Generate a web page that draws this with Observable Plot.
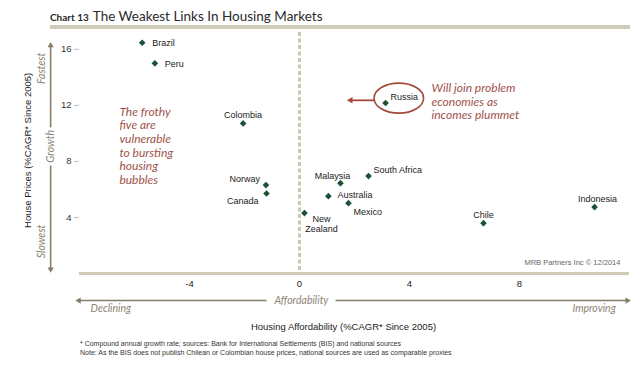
<!DOCTYPE html>
<html>
<head>
<meta charset="utf-8">
<script src="https://cdn.jsdelivr.net/npm/d3@7"></script>
<script src="https://cdn.jsdelivr.net/npm/@observablehq/plot@0.6"></script>
<style>
  html, body { margin: 0; padding: 0; background: #fff; }
  body { width: 640px; height: 366px; overflow: hidden; position: relative; font-family: "Liberation Sans", Arial, sans-serif; }
  #title { position: absolute; left: 50px; top: 5px; font-family: Lato, sans-serif; color: #2a2a2a; white-space: nowrap; }
  #title .num { font-size: 10px; font-weight: bold; margin-right: 4px; }
  #title .main { font-size: 13.5px; }
  #bar { position: absolute; left: 50px; top: 25px; width: 580px; height: 4px; background: #cfcdb9; }
  #chart { position: absolute; left: 0; top: 31px; }
  #notes { position: absolute; left: 80px; top: 340px; font-size: 7px; line-height: 8.5px; color: #333; white-space: nowrap; }
</style>
</head>
<body>
<div id="title"><span class="num">Chart 13</span><span class="main">The Weakest Links In Housing Markets</span></div>
<div id="bar"></div>
<div id="chart"></div>
<div id="notes">
  <div>* Compound annual growth rate; sources: Bank for International Settlements (BIS) and national sources</div>
  <div>Note: As the BIS does not publish Chilean or Colombian house prices, national sources are used as comparable proxies</div>
</div>
<script>
// ---- data ----
const countries     = ["Brazil", "Peru", "Colombia", "Norway", "Canada", "New Zealand", "Malaysia", "Australia", "Mexico", "South Africa", "Russia", "Chile", "Indonesia"];
const affordability = [-5.72, -5.26, -2.05, -1.22, -1.20, 0.18, 1.49, 1.05, 1.78, 2.51, 3.13, 6.69, 10.73];
const housePrices   = [16.47, 15.00, 10.71, 6.31, 5.71, 4.31, 6.45, 5.52, 5.02, 6.95, 12.17, 3.59, 4.74];
const xTicks = [-4, 0, 4, 8];
const yTicks = [4, 8, 12, 16];

const points = countries.map((c, i) => ({country: c, x: affordability[i], y: housePrices[i]}));

// label layout (offsets in px)
const labelLayout = {
  "Brazil":       {dx: 10, dy: 0,  anchor: "start"},
  "Peru":         {dx: 10, dy: 0,  anchor: "start"},
  "Colombia":     {dx: 0,  dy: -9, anchor: "middle"},
  "Norway":       {dx: -6, dy: -7, anchor: "end"},
  "Canada":       {dx: -8, dy: 7,  anchor: "end"},
  "New Zealand":  {dx: 17, dy: 10.5, anchor: "middle", text: "New\nZealand"},
  "Malaysia":     {dx: -8, dy: -8, anchor: "middle"},
  "Australia":    {dx: 9,  dy: -2, anchor: "start"},
  "Mexico":       {dx: 5,  dy: 8,  anchor: "start"},
  "South Africa": {dx: 5,  dy: -7, anchor: "start"},
  "Russia":       {dx: 5,  dy: -6, anchor: "start"},
  "Chile":        {dx: 0,  dy: -9, anchor: "middle"},
  "Indonesia":    {dx: 3,  dy: -9, anchor: "middle"}
};

const taupe = "#857d68";
const taupeText = "#8c8473";
const red = "#a34a3a";
const redText = "#a0524a";

const labelMarks = points.map(p => {
  const L = labelLayout[p.country];
  return Plot.text([p], {
    x: "x", y: "y", text: d => L.text || d.country,
    dx: L.dx, dy: L.dy, textAnchor: L.anchor, lineAnchor: "middle", lineHeight: 1.2,
    fontSize: 9, fill: "#222", fontFamily: "Liberation Sans, Arial, sans-serif"
  });
});

// annotation geometry in data units
const growthX = -9.05;
const growthLines = [{x1: growthX, y1: 0.3, x2: growthX, y2: 7.71}, {x1: growthX, y1: 10.43, x2: growthX, y2: 16.27}];
const growthHeads = [{x: growthX, y: 16.27, rot: 0}, {x: growthX, y: 0.3, rot: 180}];
const affY = -1.93;
const affLines = [{x1: -8.0, y1: affY, x2: -1.2, y2: affY}, {x1: 1.31, y1: affY, x2: 11.9, y2: affY}];
const affHeads = [{x: -8.02, y: affY, rot: -90}, {x: 11.92, y: affY, rot: 90}];
const russiaRing = {x: 3.63, y: 12.48, rx: 0.9, ry: 1.07};
const russiaArrow = [{x1: 2.73, y1: 12.36, x2: 1.9, y2: 12.36}];
const russiaHead = [{x: 1.86, y: 12.36, rot: -90}];

const ellipseMark = (index, scales) => {
  const e = document.createElementNS("http://www.w3.org/2000/svg", "ellipse");
  const cx = scales.x(russiaRing.x), cy = scales.y(russiaRing.y);
  e.setAttribute("cx", cx);
  e.setAttribute("cy", cy);
  e.setAttribute("rx", scales.x(russiaRing.x + russiaRing.rx) - cx);
  e.setAttribute("ry", cy - scales.y(russiaRing.y + russiaRing.ry));
  e.setAttribute("fill", "none");
  e.setAttribute("stroke", red);
  e.setAttribute("stroke-width", 1.6);
  return e;
};

const italic = {fontFamily: "Lato, sans-serif", fontStyle: "italic"};

const chart = Plot.plot({
  width: 640,
  height: 306,
  marginTop: 1,
  marginBottom: 64,
  marginLeft: 79,
  marginRight: 11,
  x: {domain: [-8, 12]},
  y: {domain: [0, 17.2]},
  style: {fontFamily: "Liberation Sans, Arial, sans-serif", background: "#fff"},
  marks: [
    Plot.ruleX([0], {stroke: "#cdc8b3", strokeWidth: 3, strokeDasharray: "4,2.5"}),
    Plot.ruleY([0], {stroke: "#cfcbbb", strokeWidth: 3}),
    Plot.axisY({ticks: yTicks, tickSize: 5, tickPadding: 3, stroke: "#bdbdbd", fill: "#333", fontSize: 9.5, label: null, tickFormat: d => String(d)}),
    Plot.axisX({ticks: xTicks, tickSize: 0, tickPadding: 7, fill: "#222", fontSize: 9.5, label: null, tickFormat: d => String(d)}),
    // y title and growth arrow
    Plot.text(["House Prices (%CAGR* Since 2005)"], {x: -9.89, y: 8.79, text: d => d, rotate: -90, fontSize: 9.5, fill: "#222"}),
    Plot.link(growthLines, {x1: "x1", y1: "y1", x2: "x2", y2: "y2", stroke: taupe, strokeWidth: 1.6}),
    Plot.dot(growthHeads, {x: "x", y: "y", rotate: "rot", symbol: "triangle", r: 2.3, fill: taupe}),
    Plot.text(["Growth"], {x: growthX, y: 9.07, text: d => d, rotate: -90, fontSize: 10.5, fill: taupeText, ...italic}),
    Plot.text(["Fastest"], {x: -9.36, y: 14.64, text: d => d, rotate: -90, fontSize: 10.5, fill: taupeText, ...italic}),
    Plot.text(["Slowest"], {x: -9.36, y: 2.29, text: d => d, rotate: -90, fontSize: 10.5, fill: taupeText, ...italic}),
    // affordability arrow
    Plot.link(affLines, {x1: "x1", y1: "y1", x2: "x2", y2: "y2", stroke: taupe, strokeWidth: 1.6}),
    Plot.dot(affHeads, {x: "x", y: "y", rotate: "rot", symbol: "triangle", r: 2.3, fill: taupe}),
    Plot.text(["Affordability"], {x: 0.07, y: affY, text: d => d, fontSize: 10.5, fill: taupeText, ...italic}),
    Plot.text(["Declining"], {x: -7.6, y: -2.5, text: d => d, textAnchor: "start", fontSize: 10.5, fill: taupeText, ...italic}),
    Plot.text(["Improving"], {x: 11.5, y: -2.5, text: d => d, textAnchor: "end", fontSize: 10.5, fill: taupeText, ...italic}),
    Plot.text(["Housing Affordability (%CAGR* Since 2005)"], {x: 1.6, y: -3.79, text: d => d, fontSize: 9.5, fill: "#222"}),
    Plot.text(["MRB Partners Inc © 12/2014"], {x: 11.67, y: 0.79, text: d => d, textAnchor: "end", fontSize: 7.5, fill: "#666"}),
    // annotations
    Plot.text(["The frothy\nfive are\nvulnerable\nto bursting\nhousing\nbubbles"], {x: -6.55, y: 9.14, text: d => d, textAnchor: "start", lineAnchor: "middle", lineHeight: 1.14, fontSize: 12, fill: redText, ...italic}),
    Plot.text(["Will join problem\neconomies as\nincomes plummet"], {x: 4.8, y: 12.29, text: d => d, textAnchor: "start", lineAnchor: "middle", lineHeight: 1.14, fontSize: 12, fill: redText, ...italic}),
    ellipseMark,
    Plot.link(russiaArrow, {x1: "x1", y1: "y1", x2: "x2", y2: "y2", stroke: red, strokeWidth: 1.8}),
    Plot.dot(russiaHead, {x: "x", y: "y", rotate: "rot", symbol: "triangle", r: 2.4, fill: red}),
    // data
    Plot.dot(points, {x: "x", y: "y", symbol: "diamond2", r: 3, fill: "#1b5236"}),
    ...labelMarks
  ]
});
document.getElementById("chart").appendChild(chart);
</script>
</body>
</html>
